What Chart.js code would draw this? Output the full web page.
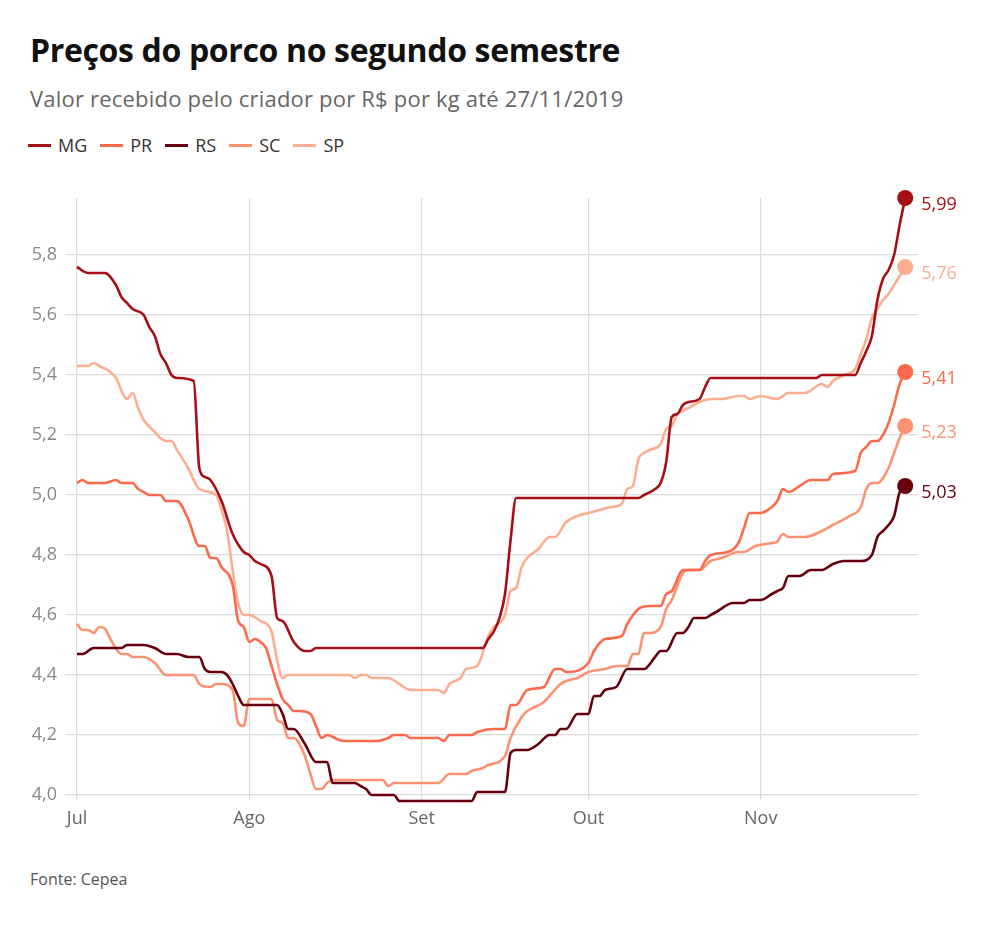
<!DOCTYPE html>
<html>
<head>
<meta charset="utf-8">
<script src="https://cdn.jsdelivr.net/npm/chart.js@4.4.1/dist/chart.umd.min.js"></script>
<style>
  body { margin: 0; background: #fff; font-family: "Open Sans", sans-serif; }
  #wrap { position: relative; width: 1000px; height: 928px; overflow: hidden; }
  .title { position: absolute; left: 30px; top: 30px; font-size: 32px; line-height: 40px; font-weight: 700; color: #111; letter-spacing: -0.35px; white-space: nowrap; }
  .subtitle { position: absolute; left: 30px; top: 84px; font-size: 22px; line-height: 28px; color: #666; letter-spacing: 0.2px; white-space: nowrap; }
  .legend { position: absolute; left: 28px; top: 133px; display: flex; font-size: 18px; line-height: 24px; color: #333; }
  .legend span.item { display: flex; align-items: center; margin-right: 13px; }
  .legend span.mark { display: inline-block; width: 23px; height: 3px; margin-right: 7px; }
  .source { position: absolute; left: 30px; top: 869px; font-size: 16px; line-height: 20px; color: #555; }
  #chartBox { position: absolute; left: 0; top: 170px; width: 1000px; height: 680px; }
</style>
</head>
<body>
<div id="wrap">
  <div class="title">Preços do porco no segundo semestre</div>
  <div class="subtitle">Valor recebido pelo criador por R$ por kg até 27/11/2019</div>
  <div class="legend" id="legend"></div>
  <div id="chartBox"><canvas id="priceChart"></canvas></div>
  <div class="source">Fonte: Cepea</div>
</div>
<script>
// days counted from 1 Jul 2019 (0 = 1 Jul, 149 = 27 Nov)
const monthDays = [0, 31, 62, 92, 123];
const monthLabels = ["Jul", "Ago", "Set", "Out", "Nov"];
const yTickValues = [4.0, 4.2, 4.4, 4.6, 4.8, 5.0, 5.2, 5.4, 5.6, 5.8];

const stateNames = ["MG", "PR", "RS", "SC", "SP"];
const stateColors = ["#a50f15", "#fb6a4a", "#67000d", "#fc9272", "#fcae91"];

const mgDays = [0, 2, 5, 7, 8, 9, 10, 12, 13, 14, 15, 16, 17, 18, 21, 22, 23, 24, 26, 28, 30, 31, 32, 33, 35, 36, 37, 39, 41, 42, 43, 73, 74, 75, 76, 77, 78, 79, 101, 102, 104, 105, 106, 107, 108, 109, 110, 112, 113, 114, 133, 134, 140, 141, 142, 143, 144, 145, 146, 147, 148, 149];
const mgPrices = [5.76, 5.74, 5.74, 5.70, 5.66, 5.64, 5.62, 5.60, 5.56, 5.53, 5.47, 5.44, 5.40, 5.39, 5.38, 5.09, 5.06, 5.05, 4.98, 4.87, 4.81, 4.80, 4.78, 4.77, 4.73, 4.59, 4.58, 4.51, 4.48, 4.48, 4.49, 4.49, 4.52, 4.545, 4.59, 4.67, 4.85, 4.99, 4.99, 5.00, 5.02, 5.04, 5.11, 5.26, 5.27, 5.30, 5.31, 5.32, 5.36, 5.39, 5.39, 5.40, 5.40, 5.44, 5.48, 5.53, 5.65, 5.72, 5.75, 5.80, 5.90, 5.99];

const prDays = [0, 1, 2, 5, 7, 8, 10, 11, 12, 13, 15, 16, 18, 20, 22, 23, 24, 25, 26, 28, 29, 30, 31, 32, 33, 34, 35, 36, 37, 38, 39, 40, 42, 43, 44, 45, 47, 48, 54, 56, 57, 59, 60, 65, 66, 67, 71, 72, 75, 77, 78, 79, 81, 84, 86, 87, 88, 92, 93, 95, 98, 99, 101, 103, 105, 106, 107, 109, 112, 113, 114, 117, 119, 120, 121, 123, 125, 126, 127, 128, 130, 132, 135, 136, 140, 141, 142, 143, 144, 145, 146, 147, 148, 149];
const prPrices = [5.04, 5.05, 5.04, 5.04, 5.05, 5.04, 5.04, 5.02, 5.01, 5.00, 5.00, 4.98, 4.98, 4.92, 4.83, 4.83, 4.79, 4.79, 4.76, 4.70, 4.58, 4.56, 4.51, 4.52, 4.51, 4.49, 4.43, 4.37, 4.32, 4.30, 4.28, 4.28, 4.27, 4.23, 4.19, 4.20, 4.185, 4.18, 4.18, 4.19, 4.20, 4.20, 4.19, 4.19, 4.18, 4.20, 4.20, 4.21, 4.22, 4.22, 4.30, 4.30, 4.35, 4.36, 4.42, 4.42, 4.41, 4.44, 4.48, 4.52, 4.53, 4.57, 4.62, 4.63, 4.63, 4.67, 4.68, 4.75, 4.75, 4.78, 4.80, 4.81, 4.84, 4.89, 4.94, 4.94, 4.96, 4.98, 5.02, 5.01, 5.03, 5.05, 5.05, 5.07, 5.08, 5.14, 5.16, 5.18, 5.18, 5.20, 5.24, 5.30, 5.37, 5.41];

const rsDays = [0, 1, 3, 8, 9, 12, 14, 16, 18, 20, 22, 23, 24, 26, 27, 28, 29, 30, 36, 37, 38, 39, 41, 43, 45, 46, 50, 51, 52, 53, 57, 58, 71, 72, 77, 78, 79, 81, 83, 85, 86, 87, 88, 90, 92, 93, 94, 95, 97, 99, 102, 104, 105, 106, 108, 109, 110, 111, 113, 114, 115, 118, 120, 121, 123, 125, 126, 127, 128, 130, 132, 134, 136, 138, 141, 143, 144, 145, 146, 147, 148, 149];
const rsPrices = [4.47, 4.47, 4.49, 4.49, 4.50, 4.50, 4.49, 4.47, 4.47, 4.46, 4.46, 4.42, 4.41, 4.41, 4.40, 4.37, 4.33, 4.30, 4.30, 4.27, 4.22, 4.22, 4.17, 4.11, 4.11, 4.04, 4.04, 4.03, 4.02, 4.00, 4.00, 3.98, 3.98, 4.01, 4.01, 4.14, 4.15, 4.15, 4.17, 4.20, 4.20, 4.22, 4.22, 4.27, 4.27, 4.33, 4.33, 4.35, 4.36, 4.42, 4.42, 4.46, 4.48, 4.48, 4.54, 4.54, 4.56, 4.59, 4.59, 4.60, 4.61, 4.64, 4.64, 4.65, 4.65, 4.67, 4.68, 4.69, 4.73, 4.73, 4.75, 4.75, 4.77, 4.78, 4.78, 4.80, 4.86, 4.88, 4.90, 4.93, 5.01, 5.03];

const scDays = [0, 1, 2, 3, 4, 5, 6, 8, 9, 10, 12, 14, 16, 21, 22, 24, 25, 26, 28, 29, 30, 31, 35, 36, 37, 38, 39, 41, 42, 43, 44, 45, 46, 55, 56, 57, 65, 67, 70, 71, 73, 74, 77, 78, 80, 81, 82, 84, 85, 87, 88, 90, 92, 95, 97, 99, 100, 101, 102, 103, 105, 106, 107, 109, 110, 112, 114, 116, 119, 120, 122, 125, 126, 127, 128, 131, 134, 136, 139, 141, 142, 143, 144, 146, 147, 148, 149];
const scPrices = [4.57, 4.55, 4.55, 4.54, 4.56, 4.555, 4.52, 4.47, 4.47, 4.46, 4.46, 4.44, 4.40, 4.40, 4.37, 4.36, 4.37, 4.37, 4.35, 4.24, 4.23, 4.32, 4.32, 4.25, 4.24, 4.19, 4.19, 4.13, 4.07, 4.02, 4.02, 4.04, 4.05, 4.05, 4.03, 4.04, 4.04, 4.07, 4.07, 4.08, 4.09, 4.10, 4.13, 4.19, 4.26, 4.28, 4.29, 4.31, 4.33, 4.37, 4.38, 4.39, 4.41, 4.42, 4.43, 4.43, 4.47, 4.47, 4.54, 4.54, 4.56, 4.62, 4.65, 4.74, 4.75, 4.75, 4.78, 4.79, 4.81, 4.81, 4.83, 4.84, 4.845, 4.87, 4.86, 4.86, 4.88, 4.90, 4.93, 4.96, 5.02, 5.04, 5.04, 5.09, 5.14, 5.19, 5.23];

const spDays = [0, 2, 3, 4, 6, 7, 9, 10, 11, 12, 14, 15, 16, 17, 18, 20, 22, 25, 26, 27, 28, 29, 30, 31, 33, 35, 36, 37, 38, 49, 50, 51, 52, 53, 56, 58, 60, 65, 66, 67, 69, 70, 72, 74, 75, 77, 78, 79, 80, 81, 83, 85, 86, 88, 90, 92, 94, 96, 98, 99, 100, 101, 102, 103, 105, 106, 107, 108, 109, 110, 112, 114, 116, 119, 120, 121, 123, 126, 128, 131, 134, 135, 136, 138, 140, 141, 142, 143, 144, 145, 146, 147, 148, 149];
const spPrices = [5.43, 5.43, 5.44, 5.43, 5.41, 5.39, 5.32, 5.34, 5.29, 5.25, 5.21, 5.19, 5.18, 5.18, 5.15, 5.09, 5.02, 5.00, 4.95, 4.88, 4.75, 4.64, 4.60, 4.60, 4.58, 4.545, 4.45, 4.39, 4.40, 4.40, 4.39, 4.40, 4.40, 4.39, 4.39, 4.37, 4.35, 4.35, 4.34, 4.37, 4.39, 4.42, 4.43, 4.53, 4.56, 4.60, 4.68, 4.69, 4.76, 4.79, 4.82, 4.86, 4.86, 4.91, 4.93, 4.94, 4.95, 4.96, 4.97, 5.02, 5.03, 5.12, 5.14, 5.15, 5.17, 5.22, 5.23, 5.27, 5.28, 5.29, 5.31, 5.32, 5.32, 5.33, 5.33, 5.32, 5.33, 5.32, 5.34, 5.34, 5.37, 5.36, 5.38, 5.40, 5.42, 5.47, 5.52, 5.59, 5.62, 5.65, 5.67, 5.70, 5.73, 5.76];

const seriesDays = [mgDays, prDays, rsDays, scDays, spDays];
const seriesPrices = [mgPrices, prPrices, rsPrices, scPrices, spPrices];

const fmt = (v, n) => v.toFixed(n).replace(".", ",");

// legend
const legendBox = document.getElementById("legend");
stateNames.forEach((name, i) => {
  const item = document.createElement("span");
  item.className = "item";
  const mark = document.createElement("span");
  mark.className = "mark";
  mark.style.background = stateColors[i];
  item.appendChild(mark);
  item.appendChild(document.createTextNode(name));
  legendBox.appendChild(item);
});

const datasets = stateNames.map((name, i) => {
  const days = seriesDays[i];
  const prices = seriesPrices[i];
  const last = days.length - 1;
  return {
    label: name,
    data: days.map((d, k) => ({ x: d, y: prices[k] })),
    borderColor: stateColors[i],
    backgroundColor: stateColors[i],
    borderWidth: 2.6,
    fill: false,
    clip: false,
    cubicInterpolationMode: "monotone",
    pointRadius: (ctx) => (ctx.dataIndex === last ? 8 : 0),
    pointHoverRadius: (ctx) => (ctx.dataIndex === last ? 8 : 0),
    pointBorderWidth: 0,
  };
});

// value labels next to the last point of each line
const endLabels = {
  id: "endLabels",
  afterDatasetsDraw(chart) {
    const ctx = chart.ctx;
    ctx.save();
    ctx.font = "18px 'Open Sans'";
    ctx.textAlign = "left";
    ctx.textBaseline = "middle";
    chart.data.datasets.forEach((ds, i) => {
      const meta = chart.getDatasetMeta(i);
      const pt = meta.data[meta.data.length - 1];
      const val = ds.data[ds.data.length - 1].y;
      ctx.fillStyle = stateColors[i];
      ctx.fillText(fmt(val, 2), pt.x + 16, pt.y + 7);
    });
    ctx.restore();
  },
};

const priceChart = new Chart(document.getElementById("priceChart").getContext("2d"), {
  type: "line",
  data: { datasets: datasets },
  options: {
    responsive: true,
    maintainAspectRatio: false,
    animation: false,
    layout: { padding: { top: 28, right: 82, bottom: 0, left: 0 } },
    plugins: {
      legend: { display: false },
      tooltip: { enabled: false },
    },
    scales: {
      x: {
        type: "linear",
        min: 0,
        max: 151.3,
        afterBuildTicks: (scale) => {
          scale.ticks = monthDays.map((d) => ({ value: d }));
        },
        afterFit: (scale) => {
          scale.height = 55;
        },
        ticks: {
          autoSkip: false,
          maxRotation: 0,
          padding: 8,
          color: "#666",
          font: { family: "Open Sans", size: 18 },
          callback: (v) => monthLabels[monthDays.indexOf(v)],
        },
        grid: { color: "#dcdcdc", lineWidth: 1.2, tickLength: 5 },
        border: { display: false },
      },
      y: {
        min: 4,
        max: 5.99,
        afterBuildTicks: (scale) => {
          scale.ticks = yTickValues.map((v) => ({ value: v }));
        },
        afterFit: (scale) => {
          scale.width = 77;
        },
        ticks: {
          padding: 8,
          color: "#888",
          font: { family: "Open Sans", size: 18 },
          callback: (v) => fmt(v, 1),
        },
        grid: { color: "#dcdcdc", lineWidth: 1.2, tickLength: 12 },
        border: { display: false },
      },
    },
  },
  plugins: [endLabels],
});
</script>
</body>
</html>
